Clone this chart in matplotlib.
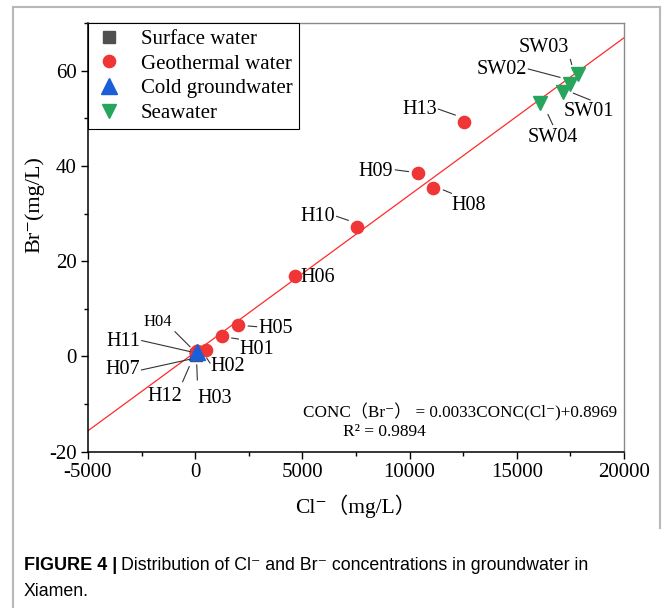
import matplotlib
matplotlib.use("Agg")
import matplotlib.pyplot as plt
from matplotlib.lines import Line2D
import numpy as np

SERIF = ['Liberation Serif', 'DejaVu Serif', 'Noto Sans CJK SC']
plt.rcParams['font.family'] = SERIF
plt.rcParams['axes.unicode_minus'] = False

# ---------------- data ----------------
surface_x = [30]
surface_y = [0.4]

geo_names = ['H01', 'H02', 'H03', 'H04', 'H05', 'H06', 'H07',
             'H08', 'H09', 'H10', 'H11', 'H12', 'H13']
geo_x = [1240, 490, 100, 80, 1980, 4640, 60, 11110, 10410, 7560, 90, 50, 12550]
geo_y = [4.2, 1.4, 0.8, 1.2, 6.6, 16.8, 0.9, 35.3, 38.6, 27.1, 1.1, 0.7, 49.2]

cold_x = [70]
cold_y = [1.0]

sea_names = ['SW01', 'SW02', 'SW03', 'SW04']
sea_x = [17170, 17480, 17870, 16080]
sea_y = [55.6, 57.2, 59.2, 53.3]

fit_slope = 0.0033
fit_intercept = 0.8969
r2 = 0.9894

x_ticks = [-5000, 0, 5000, 10000, 15000, 20000]
y_ticks = [-20, 0, 20, 40, 60]

# label placement: (text dx, text dy, ha, fontsize, line start dx,dy, line end dx,dy) in pixels
label_style = {
    'H13': (-27, 13, 'right', 14.5, (-26, 13), (-9, 7)),
    'SW03': (-35, 27, 'center', 14.5, (-8, 15), (-6.6, 10)),
    'SW02': (-43, 14, 'right', 14.5, (-41.7, 15), (-10, 6.6)),
    'SW01': (25, -20, 'center', 14.5, (10, -1.6), (26.7, -8.3)),
    'SW04': (13, -35, 'center', 14.5, (8, -12), (12.7, -22)),
    'H09': (-25, 1, 'right', 14.5, (-23, 2.7), (-10, 1)),
    'H08': (18, -17, 'left', 14.5, (10, -1.7), (18, -5)),
    'H10': (-22, 11, 'right', 14.5, (-20.7, 11), (-9, 7)),
    'H06': (6, -1, 'left', 14.5, None, None),
    'H05': (20.6, -3.3, 'left', 14.5, (10.6, -1), (19, -1.7)),
    'H01': (18, -13, 'left', 14.5, (10, -1.6), (16.6, -2.6)),
    'H02': (4.3, -16.7, 'left', 14.5, (1, -8.3), (4.3, -13.3)),
    'H04': (-38.6, 29, 'center', 12, (-21.9, 19), (-6.9, 4)),
    'H11': (-57, 9.6, 'right', 14.5, (-55.4, 10.6), (-7.1, -0.4)),
    'H07': (-56.5, -17.8, 'right', 14.5, (-55, -17.8), (-6.5, -7.1)),
    'H12': (-31.3, -43.5, 'center', 14.5, (-13.6, -28.5), (-7, -13.5)),
    'H03': (17.7, -45.6, 'center', 14.5, (0, -27.3), (-0.6, -12.3)),
}

W, H = 663, 608
fig = plt.figure(figsize=(W / 100, H / 100), dpi=100)
AX_L, AX_R, AX_T, AX_B = 88, 624, 23, 451.7
ax = fig.add_axes([AX_L / W, 1 - AX_B / H, (AX_R - AX_L) / W, (AX_B - AX_T) / H])

ax.set_xlim(-5000, 20000)
ax.set_ylim(-20, 70)

# fit line
lx = np.array([-5000, 20000])
ax.plot(lx, fit_slope * lx + fit_intercept, color='#ff2a2a', lw=0.9, zorder=1)

c_surface = '#505050'
c_geo = '#ef3535'
c_cold = '#1a5fd8'
c_sea = '#27a55c'

ax.plot(surface_x, surface_y, 's', color=c_surface, ms=8, ls='none', label='Surface water', zorder=3)
ax.plot(geo_x, geo_y, 'o', color=c_geo, ms=8.8, ls='none', label='Geothermal water', zorder=3)
ax.plot(cold_x, cold_y, '^', color=c_cold, ms=11, ls='none', label='Cold groundwater', zorder=4)
ax.plot(sea_x, sea_y, 'v', color=c_sea, ms=10.5, ls='none', label='Seawater', zorder=3)

names = geo_names + sea_names
xs = geo_x + sea_x
ys = geo_y + sea_y
inv = fig.transFigure.inverted()
for n, x, y in zip(names, xs, ys):
    tdx, tdy, ha, fs, l0, l1 = label_style[n]
    ax.annotate(n, (x, y), xytext=(tdx, tdy), textcoords='offset pixels',
                ha=ha, va='center', fontsize=fs, zorder=5)
    if l0 is not None:
        px, py = ax.transData.transform((x, y))
        a = inv.transform((px + l0[0], py + l0[1]))
        b = inv.transform((px + l1[0], py + l1[1]))
        fig.add_artist(Line2D([a[0], b[0]], [a[1], b[1]], color='#333333', lw=0.8))

# ticks
ax.set_xticks(x_ticks)
ax.set_yticks(y_ticks)
ax.set_xticks([-2500, 2500, 7500, 12500, 17500], minor=True)
ax.set_yticks([-10, 10, 30, 50, 70], minor=True)
ax.tick_params(which='major', direction='out', length=5, width=1, labelsize=15, pad=3, colors='black')
ax.tick_params(which='minor', direction='out', length=3, width=1)
for s in ['left', 'bottom']:
    ax.spines[s].set_color('black')
    ax.spines[s].set_linewidth(1.1)
for s in ['top', 'right']:
    ax.spines[s].set_color('#8a8a8a')
    ax.spines[s].set_linewidth(1.0)

ax.set_xlabel('Cl\u207b\uff08mg/L\uff09', fontsize=15.5, labelpad=9)
ax.set_ylabel('Br\u207b(mg/L)', fontsize=16)
ax.yaxis.set_label_coords((44 - AX_L) / (AX_R - AX_L), (AX_B - 205) / (AX_B - AX_T))

# equation
ax.text((303 - AX_L) / (AX_R - AX_L), (AX_B - 412) / (AX_B - AX_T),
        'CONC\uff08Br\u207b\uff09 = 0.0033CONC(Cl\u207b)+0.8969',
        transform=ax.transAxes, fontsize=12.3, ha='left', va='center')
ax.text((343 - AX_L) / (AX_R - AX_L), (AX_B - 432) / (AX_B - AX_T), 'R\u00b2 = 0.9894',
        transform=ax.transAxes, fontsize=12.5, ha='left', va='center')

leg = ax.legend(loc='upper left', bbox_to_anchor=(0, 1), borderaxespad=0,
                fontsize=15, frameon=True, fancybox=False, edgecolor='black',
                labelspacing=0.25, handlelength=1.4, handletextpad=0.85,
                borderpad=0.3, framealpha=1)
leg.get_frame().set_linewidth(0.8)

# outer frame
gray = '#b8b8b8'
fig.add_artist(Line2D([13 / W, 13 / W], [0, 1 - 7 / H], color=gray, lw=1.5))
fig.add_artist(Line2D([13 / W, 660 / W], [1 - 7 / H, 1 - 7 / H], color=gray, lw=1.5))
fig.add_artist(Line2D([660 / W, 660 / W], [1 - 7 / H, 1 - 528 / H], color=gray, lw=1.5))

# caption
CAP = ['Liberation Sans Narrow', 'Liberation Sans', 'DejaVu Sans']
t1 = fig.text(24 / W, 1 - 565 / H, 'FIGURE 4 |', fontsize=13, fontweight='bold',
              family=CAP, ha='left', va='center')
fig.canvas.draw()
bb = t1.get_window_extent()
fig.text((bb.x1 + 4) / W, 1 - 565 / H,
         'Distribution of Cl\u207b and Br\u207b concentrations in groundwater in',
         fontsize=12.8, family=CAP, ha='left', va='center')
fig.text(24 / W, 1 - 591 / H, 'Xiamen.', fontsize=12.8, family=CAP, ha='left', va='center')

fig.savefig('out.png', dpi=100)
